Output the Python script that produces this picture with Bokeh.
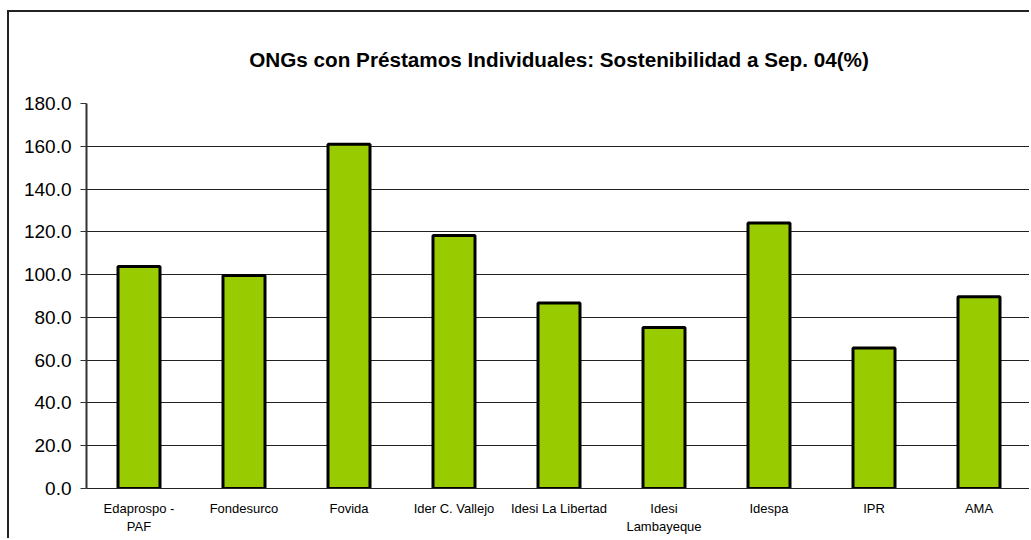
from bokeh.plotting import figure
from bokeh.models import NumeralTickFormatter, FactorRange, ColumnDataSource, FixedTicker
from bokeh.embed import file_html
from bokeh.resources import INLINE

categories = ["Edaprospo -\nPAF", "Fondesurco", "Fovida", "Ider C. Vallejo",
              "Idesi La Libertad", "Idesi\nLambayeque", "Idespa", "IPR", "AMA"]
values = [103.8, 99.6, 161.0, 118.3, 86.7, 75.3, 124.1, 65.7, 89.7]
y_ticks = [0, 20, 40, 60, 80, 100, 120, 140, 160, 180]
title_text = "ONGs con Préstamos Individuales: Sostenibilidad a Sep. 04(%)"

src = ColumnDataSource(dict(cat=categories, val=values))

p = figure(width=1022, height=528, output_backend="svg", toolbar_location=None,
           x_range=FactorRange(*categories, range_padding=0), y_range=(0, 180),
           min_border_left=77, min_border_right=0, min_border_top=90, min_border_bottom=52)

p.title.text = title_text
p.title.align = "center"
p.title.text_font = "Liberation Sans"
p.title.text_font_style = "bold"
p.title.text_font_size = "20.7px"
p.title.text_color = "black"
p.title.standoff = 66

p.vbar(x="cat", top="val", width=0.4, source=src, fill_color="#99CC00",
       line_color="black", line_width=3)

p.outline_line_color = None
p.background_fill_color = "white"
p.border_fill_color = "white"

p.xgrid.grid_line_color = None
p.ygrid.grid_line_color = "#222222"
p.ygrid.grid_line_width = 1
p.ygrid.ticker = FixedTicker(ticks=y_ticks)

p.yaxis.ticker = FixedTicker(ticks=y_ticks)
p.yaxis.formatter = NumeralTickFormatter(format="0.0")
p.yaxis.major_label_text_font = "Liberation Sans"
p.yaxis.major_label_text_font_size = "19px"
p.yaxis.major_label_text_color = "black"
p.yaxis.axis_line_color = "#333333"
p.yaxis.axis_line_width = 2
p.yaxis.major_tick_line_color = "#333333"
p.yaxis.major_tick_out = 6
p.yaxis.major_tick_in = 0
p.yaxis.minor_tick_line_color = None
p.yaxis.major_label_standoff = 9

p.xaxis.axis_line_color = "#222222"
p.xaxis.axis_line_width = 1
p.xaxis.major_tick_line_color = None
p.xaxis.minor_tick_line_color = None
p.xaxis.major_label_text_font = "Liberation Sans"
p.xaxis.major_label_text_font_size = "13px"
p.xaxis.major_label_text_color = "black"
p.xaxis.major_label_standoff = 6

p.styles = {"border-left": "2px solid #222", "border-top": "2px solid #222",
            "margin-left": "7px", "margin-top": "10px"}

open("out.html", "w").write(file_html(p, INLINE))
